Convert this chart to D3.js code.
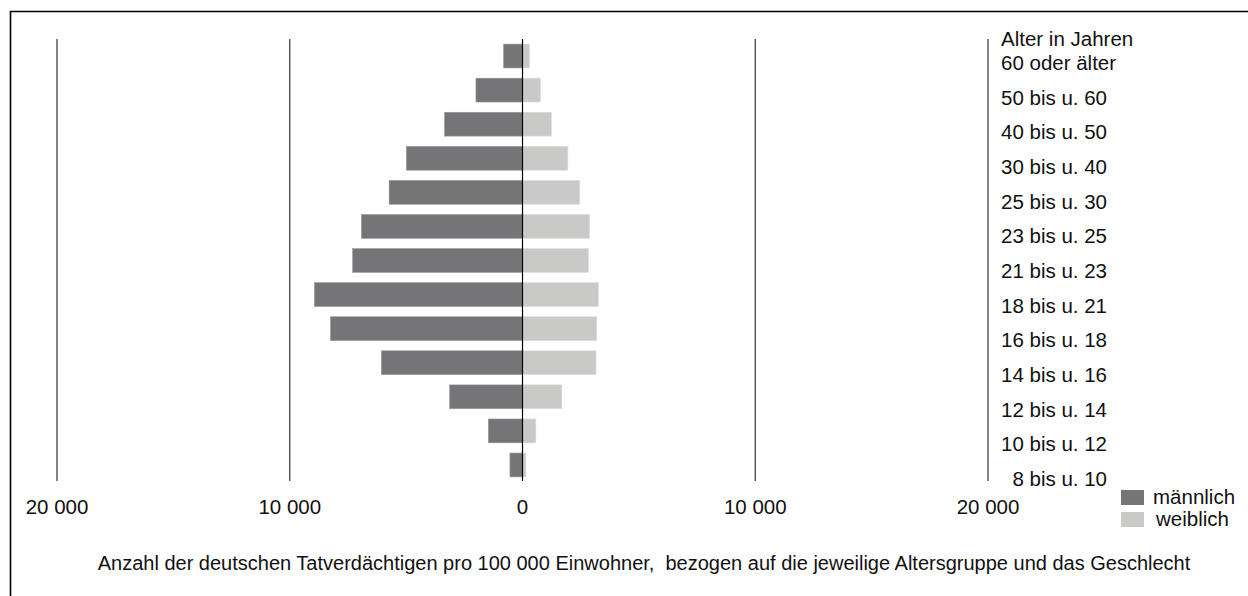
<!DOCTYPE html>
<html>
<head>
<meta charset="utf-8">
<script src="https://cdn.jsdelivr.net/npm/d3@7"></script>
<style>
  body { margin: 0; background: #fff; }
  svg text { font-family: "Liberation Sans", Arial, sans-serif; fill: #111; font-size: 20.5px; }
</style>
</head>
<body>
<div id="chart"></div>
<script>
// age groups, top to bottom
const ageGroups = ["60 oder älter", "50 bis u. 60", "40 bis u. 50", "30 bis u. 40", "25 bis u. 30",
    "23 bis u. 25", "21 bis u. 23", "18 bis u. 21", "16 bis u. 18", "14 bis u. 16",
    "12 bis u. 14", "10 bis u. 12", "\u20078 bis u. 10"];
// Tatverdächtige pro 100 000 Einwohner
const maleValues = [815, 2000, 3350, 4990, 5730, 6920, 7300, 8940, 8250, 6060, 3130, 1470, 540];
const femaleValues = [300, 770, 1240, 1950, 2460, 2880, 2830, 3260, 3190, 3160, 1690, 575, 145];
const tickValues = [-20000, -10000, 0, 10000, 20000];
const legendLabels = ["männlich", "weiblich"];
const axisTitle = "Alter in Jahren";
const caption = "Anzahl der deutschen Tatverdächtigen pro 100 000 Einwohner,  bezogen auf die jeweilige Altersgruppe und das Geschlecht";

const width = 1248;
const height = 596;
const maleColor = "#757577";
const femaleColor = "#c9c9c8";

const svg = d3.select("#chart").append("svg")
    .attr("width", width)
    .attr("height", height);

svg.append("rect").attr("width", width).attr("height", height).attr("fill", "#fff");

// frame (top and left only)
svg.append("path")
    .attr("d", "M10.5,596 V11.5 H1248")
    .attr("fill", "none")
    .attr("stroke", "#000")
    .attr("stroke-width", 1.6);

const x = d3.scaleLinear().domain([-20000, 20000]).range([57, 988]);
const y = d3.scaleBand().domain(ageGroups).range([39.5, 481.5]).paddingInner(0.3).paddingOuter(0.135);
const yLabel = d3.scalePoint().domain(ageGroups).range([70, 486]);

const fmt = d3.formatLocale({ decimal: ",", thousands: " ", grouping: [3], currency: ["", " €"] }).format(",d");

// grid lines
svg.append("g")
    .selectAll("line")
    .data(tickValues.filter(d => d !== 0))
    .enter().append("line")
    .attr("x1", d => x(d)).attr("x2", d => x(d))
    .attr("y1", 39).attr("y2", 481)
    .attr("stroke", "#333")
    .attr("stroke-width", 1.2);

const rows = svg.append("g")
    .selectAll("g")
    .data(ageGroups)
    .enter().append("g");

// male bars to the left
rows.append("rect")
    .attr("x", (d, i) => x(-maleValues[i]))
    .attr("y", d => y(d))
    .attr("width", (d, i) => x(0) - x(-maleValues[i]))
    .attr("height", y.bandwidth())
    .attr("fill", maleColor)
    .attr("stroke", "#9a9a9a")
    .attr("stroke-width", 0.6);

// female bars to the right
rows.append("rect")
    .attr("x", x(0))
    .attr("y", d => y(d))
    .attr("width", (d, i) => x(femaleValues[i]) - x(0))
    .attr("height", y.bandwidth())
    .attr("fill", femaleColor)
    .attr("stroke", "#dcdcdc")
    .attr("stroke-width", 0.6);

// center line
svg.append("line")
    .attr("x1", x(0)).attr("x2", x(0))
    .attr("y1", 39).attr("y2", 481)
    .attr("stroke", "#000")
    .attr("stroke-width", 1.2);

// tick labels
svg.append("g")
    .selectAll("text")
    .data(tickValues)
    .enter().append("text")
    .attr("x", d => x(d))
    .attr("y", 514)
    .attr("text-anchor", "middle")
    .text(d => fmt(Math.abs(d)));

// age labels
svg.append("text")
    .attr("x", 1001)
    .attr("y", 46)
    .text(axisTitle);

svg.append("g")
    .selectAll("text")
    .data(ageGroups)
    .enter().append("text")
    .attr("x", 1001)
    .attr("y", d => yLabel(d))
    .text(d => d);

// legend
const legend = svg.append("g")
    .selectAll("g")
    .data(legendLabels)
    .enter().append("g")
    .attr("transform", (d, i) => "translate(1121," + (490 + i * 22) + ")");

legend.append("rect")
    .attr("width", 23)
    .attr("height", 15)
    .attr("fill", (d, i) => i === 0 ? maleColor : femaleColor);

legend.append("text")
    .attr("x", (d, i) => i === 0 ? 32 : 35)
    .attr("y", 14)
    .text(d => d);

// caption
svg.append("text")
    .attr("x", 644)
    .attr("y", 570)
    .attr("text-anchor", "middle")
    .style("font-size", "20px")
    .style("white-space", "pre")
    .text(caption);
</script>
</body>
</html>
